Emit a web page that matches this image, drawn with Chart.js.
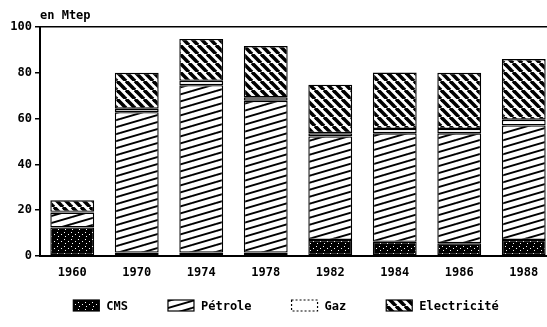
<!DOCTYPE html>
<html>
<head>
<meta charset="utf-8">
<script src="https://cdn.jsdelivr.net/npm/chart.js@4.4.0/dist/chart.umd.min.js"></script>
<style>
  html, body { margin: 0; padding: 0; background: #fff; overflow: hidden; }
  #wrap { width: 556px; height: 327px; position: relative; }
</style>
</head>
<body>
<div id="wrap"><canvas id="energyChart"></canvas></div>
<script>
// Consommation d'énergie par source, en Mtep
var years = ['1960', '1970', '1974', '1978', '1982', '1984', '1986', '1988'];
var cms = [12.5, 1.5, 1.5, 1.5, 7, 6.2, 5.6, 7];
var petrole = [6.5, 61.3, 73.1, 66.3, 45.2, 47.4, 48, 50];
var gaz = [0.3, 1.5, 1.9, 1.5, 1.4, 1.9, 1.9, 2.5];
var electricite = [5, 15.7, 18.3, 22.4, 21.2, 24.6, 24.5, 26.5];
var yTicks = [0, 20, 40, 60, 80, 100];
var unitLabel = 'en Mtep';

var FONT = '"DejaVu Sans Mono", monospace';

// Hatch tiles used as bar fills
function makePattern(w, h, draw) {
    var c = document.createElement('canvas');
    c.width = w;
    c.height = h;
    var g = c.getContext('2d');
    draw(g, w, h);
    return g.createPattern(c, 'repeat');
}

var cmsFill = makePattern(7, 7, function(g, w, h) {
    g.fillStyle = '#000';
    g.fillRect(0, 0, w, h);
    g.fillStyle = '#fff';
    g.fillRect(1, 1, 1, 1);
    g.fillRect(5, 3, 1, 1);
    g.fillRect(2, 5, 1, 1);
});

var petroleFill = makePattern(24, 7, function(g, w, h) {
    g.fillStyle = '#fff';
    g.fillRect(0, 0, w, h);
    g.strokeStyle = '#000';
    g.lineWidth = 1.9;
    for (var k = -1; k <= 1; k++) {
        g.beginPath();
        g.moveTo(0, h + k * h);
        g.lineTo(w, k * h);
        g.stroke();
    }
});

var elecFill = makePattern(9, 9, function(g, w, h) {
    g.fillStyle = '#fff';
    g.fillRect(0, 0, w, h);
    g.strokeStyle = '#000';
    g.lineWidth = 3.6;
    for (var k = -1; k <= 1; k++) {
        g.beginPath();
        g.moveTo(k * w, 0);
        g.lineTo(k * w + w, h);
        g.stroke();
    }
});

// Unit label above the y axis
var unitPlugin = {
    id: 'unitLabel',
    afterDraw: function(chart) {
        var ctx = chart.ctx;
        ctx.save();
        ctx.font = 'bold 12px ' + FONT;
        ctx.fillStyle = '#000';
        ctx.textBaseline = 'middle';
        ctx.fillText(unitLabel, chart.chartArea.left, 16);
        ctx.restore();
    }
};

// Legend row under the axis
var legendPlugin = {
    id: 'bottomLegend',
    afterDraw: function(chart) {
        var ctx = chart.ctx;
        var boxW = 26, boxH = 11, gap = 7, spacing = 40;
        var centerX = 286, y = 300;
        ctx.save();
        ctx.font = 'bold 12px ' + FONT;
        var sets = chart.data.datasets;
        var widths = sets.map(function(ds) {
            return boxW + gap + ctx.measureText(ds.label).width;
        });
        var total = widths.reduce(function(a, b) { return a + b; }, 0) + spacing * (widths.length - 1);
        var x = centerX - total / 2;
        sets.forEach(function(ds, i) {
            ctx.fillStyle = ds.backgroundColor;
            ctx.fillRect(x, y, boxW, boxH);
            ctx.strokeStyle = '#000';
            ctx.lineWidth = 1.2;
            ctx.setLineDash(ds.label === 'Gaz' ? [2, 2] : []);
            ctx.strokeRect(x, y, boxW, boxH);
            ctx.setLineDash([]);
            ctx.fillStyle = '#000';
            ctx.textBaseline = 'middle';
            ctx.fillText(ds.label, x + boxW + gap, y + boxH / 2 + 1);
            x += widths[i] + spacing;
        });
        ctx.restore();
    }
};

function barSet(label, data, fill) {
    return {
        label: label,
        data: data,
        backgroundColor: fill,
        borderColor: '#000',
        borderWidth: 1.4,
        borderSkipped: false,
        barPercentage: 0.68,
        categoryPercentage: 1
    };
}

var ctx = document.getElementById('energyChart').getContext('2d');
var energyChart = new Chart(ctx, {
    type: 'bar',
    data: {
        labels: years,
        datasets: [
            barSet('CMS', cms, cmsFill),
            barSet('Pétrole', petrole, petroleFill),
            barSet('Gaz', gaz, '#fff'),
            barSet('Electricité', electricite, elecFill)
        ]
    },
    options: {
        responsive: true,
        maintainAspectRatio: false,
        animation: false,
        layout: {
            padding: { top: 27, bottom: 41, left: 0, right: 0 }
        },
        plugins: {
            legend: { display: false },
            tooltip: { enabled: false }
        },
        scales: {
            x: {
                stacked: true,
                grid: { display: false },
                border: { color: '#000', width: 2 },
                ticks: {
                    color: '#000',
                    padding: 2,
                    font: { family: FONT, size: 12, weight: 'bold' }
                },
                afterFit: function(scale) { scale.height = 30; }
            },
            y: {
                stacked: true,
                min: 0,
                max: 100,
                border: { color: '#000', width: 2 },
                grid: {
                    color: function(c) { return c.tick && c.tick.value === 100 ? '#000' : 'rgba(0,0,0,0)'; },
                    lineWidth: 1.5,
                    tickColor: '#000',
                    tickLength: 5
                },
                ticks: {
                    color: '#000',
                    padding: 3,
                    font: { family: FONT, size: 12, weight: 'bold' }
                },
                afterBuildTicks: function(scale) {
                    scale.ticks = yTicks.map(function(v) { return { value: v }; });
                },
                afterFit: function(scale) { scale.width = 40; }
            }
        }
    },
    plugins: [unitPlugin, legendPlugin]
});
</script>
</body>
</html>
